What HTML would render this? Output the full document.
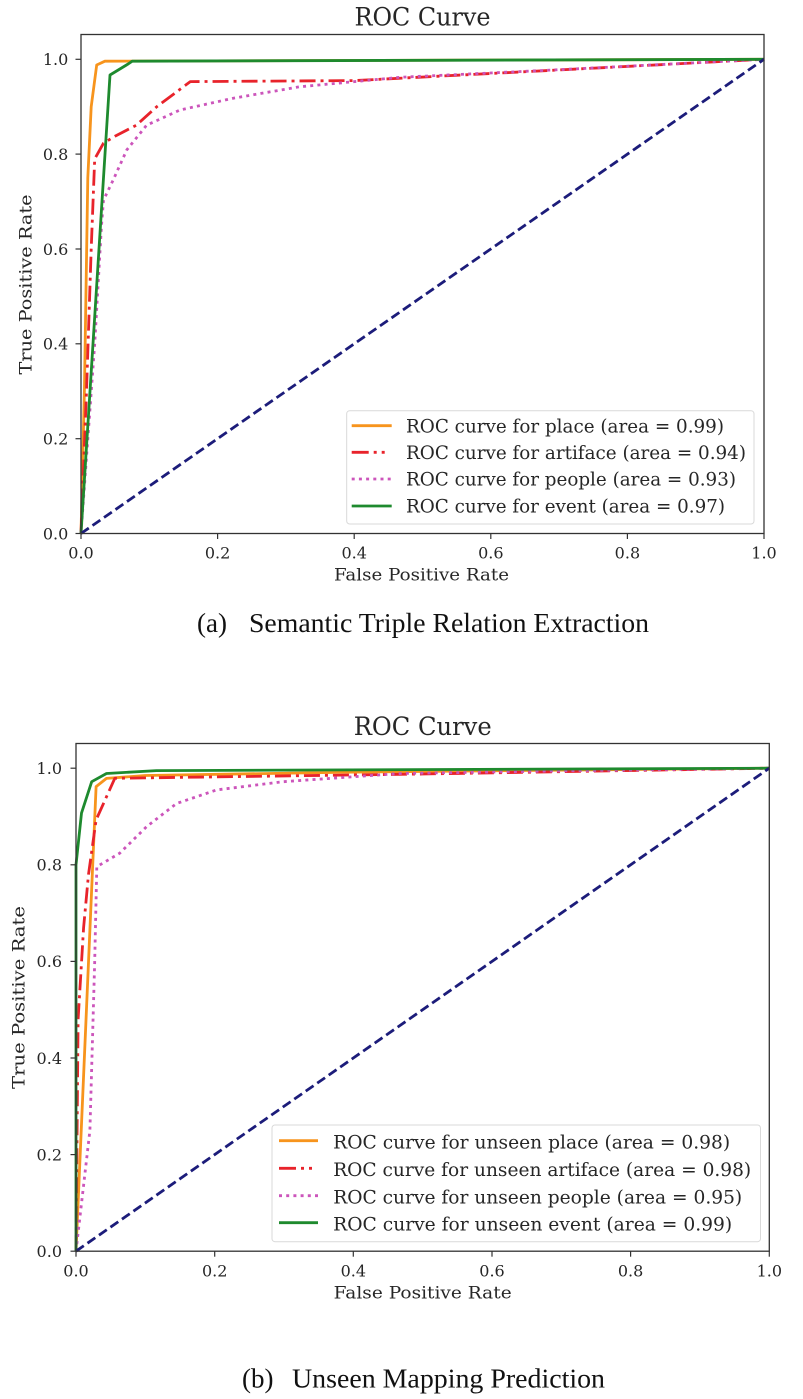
<!DOCTYPE html>
<html>
<head>
<meta charset="utf-8">
<style>
html,body{margin:0;padding:0;background:#fff;}
svg{display:block;}
.t{font-family:"DejaVu Serif","Liberation Serif",serif;fill:#262626;}
.cap{font-family:"Liberation Serif","Times New Roman",serif;fill:#111;}
</style>
</head>
<body>
<svg width="803" height="1399" viewBox="0 0 803 1399" xmlns="http://www.w3.org/2000/svg">
<rect x="0" y="0" width="803" height="1399" fill="#fff"/>

<!-- ================= TOP CHART ================= -->
<text class="t" x="422.5" y="25.7" text-anchor="middle" font-size="25" textLength="136" lengthAdjust="spacingAndGlyphs">ROC Curve</text>

<g fill="none" stroke-width="2.8" stroke-linejoin="round">
  <!-- place (orange) -->
  <polyline stroke="#f7941d" points="81,533.5 84.4,391.2 87.8,177.9 91.2,106.7 96.7,65 104.9,61.2 764,59.3"/>
  <!-- artiface (red dash-dot) -->
  <polyline stroke="#e8232b" stroke-dasharray="16 5 3 5" points="81,533.5 86.5,391.2 91.2,249 94.7,158.9 103.5,143.2 115.2,136.1 136.3,125.2 156.8,106.7 190.3,81.6 354.2,80.6 490.8,73.5 764,59.3"/>
  <!-- people (pink dotted) -->
  <polyline stroke="#cc55bb" stroke-dasharray="3 4.2" points="81,533.5 94.7,343.8 101.5,225.3 103.5,200.1 113.1,180.2 126.8,149.9 146.6,125.2 180,110 233.3,98.2 299.6,86.8 400,77.3 559.1,69.7 764,59.3"/>
  <!-- event (green) -->
  <polyline stroke="#1e8a2e" points="81,533.5 110,75 128.1,64 132.2,61.2 764,59.3"/>
  <!-- diagonal -->
  <line x1="81" y1="533.5" x2="764" y2="59.3" stroke="#1c1c7a" stroke-dasharray="9.5 4.5"/>
</g>

<!-- axes box -->
<rect x="81" y="34.5" width="683" height="499" fill="none" stroke="#333" stroke-width="1.3"/>

<!-- y ticks -->
<g stroke="#333" stroke-width="1.2">
  <line x1="75.5" y1="533.5" x2="81" y2="533.5"/>
  <line x1="75.5" y1="438.7" x2="81" y2="438.7"/>
  <line x1="75.5" y1="343.8" x2="81" y2="343.8"/>
  <line x1="75.5" y1="249" x2="81" y2="249"/>
  <line x1="75.5" y1="154.1" x2="81" y2="154.1"/>
  <line x1="75.5" y1="59.3" x2="81" y2="59.3"/>
  <line x1="81" y1="533.5" x2="81" y2="539"/>
  <line x1="217.6" y1="533.5" x2="217.6" y2="539"/>
  <line x1="354.2" y1="533.5" x2="354.2" y2="539"/>
  <line x1="490.8" y1="533.5" x2="490.8" y2="539"/>
  <line x1="627.4" y1="533.5" x2="627.4" y2="539"/>
  <line x1="764" y1="533.5" x2="764" y2="539"/>
</g>
<g class="t" font-size="16" text-anchor="end">
  <text x="68.3" y="539.3">0.0</text>
  <text x="68.3" y="444.5">0.2</text>
  <text x="68.3" y="349.6">0.4</text>
  <text x="68.3" y="254.8">0.6</text>
  <text x="68.3" y="159.9">0.8</text>
  <text x="68.3" y="65.1">1.0</text>
</g>
<g class="t" font-size="16" text-anchor="middle">
  <text x="81" y="558.3">0.0</text>
  <text x="217.6" y="558.3">0.2</text>
  <text x="354.2" y="558.3">0.4</text>
  <text x="490.8" y="558.3">0.6</text>
  <text x="627.4" y="558.3">0.8</text>
  <text x="764" y="558.3">1.0</text>
</g>
<text class="t" x="421.5" y="580.7" text-anchor="middle" font-size="17" textLength="175" lengthAdjust="spacingAndGlyphs">False Positive Rate</text>
<text class="t" transform="translate(31.5,284.5) rotate(-90)" x="0" y="0" text-anchor="middle" font-size="17" textLength="180" lengthAdjust="spacingAndGlyphs">True Positive Rate</text>

<!-- legend top -->
<rect x="346.7" y="410.7" width="407.3" height="113.3" rx="3" ry="3" fill="#fff" stroke="#d9d9d9" stroke-width="1"/>
<g fill="none" stroke-width="2.8">
  <line x1="351.7" y1="425.7" x2="391.7" y2="425.7" stroke="#f7941d"/>
  <line x1="351.7" y1="452.3" x2="391.7" y2="452.3" stroke="#e8232b" stroke-dasharray="17 5 3 5 3 10"/>
  <line x1="351.7" y1="479" x2="391.7" y2="479" stroke="#cc55bb" stroke-dasharray="3 4.2"/>
  <line x1="351.7" y1="506" x2="391.7" y2="506" stroke="#1e8a2e"/>
</g>
<g class="t" font-size="18.3">
  <text x="406" y="432.3" textLength="318" lengthAdjust="spacingAndGlyphs">ROC curve for place (area = 0.99)</text>
  <text x="406" y="458.9" textLength="340" lengthAdjust="spacingAndGlyphs">ROC curve for artiface (area = 0.94)</text>
  <text x="406" y="485.6" textLength="330" lengthAdjust="spacingAndGlyphs">ROC curve for people (area = 0.93)</text>
  <text x="406" y="512.6" textLength="319" lengthAdjust="spacingAndGlyphs">ROC curve for event (area = 0.97)</text>
</g>

<!-- caption a -->
<text class="cap" x="197" y="632" font-size="27">(a)</text>
<text class="cap" x="249" y="632" font-size="27" textLength="400" lengthAdjust="spacingAndGlyphs">Semantic Triple Relation Extraction</text>

<!-- ================= BOTTOM CHART ================= -->
<text class="t" x="422.7" y="735" text-anchor="middle" font-size="25" textLength="138" lengthAdjust="spacingAndGlyphs">ROC Curve</text>

<g fill="none" stroke-width="2.8" stroke-linejoin="round">
  <!-- place (orange) -->
  <polyline stroke="#f7941d" points="76,1251.2 96.1,786.6 106.5,778.4 145.3,775.5 353.3,772.1 769.3,768.2"/>
  <!-- artiface (red dash-dot) -->
  <polyline stroke="#e8232b" stroke-dasharray="16 5 3 5" points="76,1251.2 78.1,1019.4 83.6,927.6 88.5,874.5 96.1,819.9 114.8,778.3 214.7,776.9 422.7,774 769.3,768.2"/>
  <!-- people (pink dotted) -->
  <polyline stroke="#cc55bb" stroke-dasharray="3 4.2" points="76,1251.2 89.9,1130.5 94.7,961.4 96.8,866.7 119.7,853.2 146.7,826.6 176.5,803.5 216.7,789.9 283.3,781.7 399.8,773.5 561.3,770.9 769.3,768.2"/>
  <!-- event (green) -->
  <polyline stroke="#1e8a2e" points="76,1251.2 76,864.8 81.5,813.1 91.7,781.7 106.5,773.5 156.4,770.6 769.3,768.2"/>
  <!-- diagonal -->
  <line x1="76" y1="1251.2" x2="769.3" y2="768.2" stroke="#1c1c7a" stroke-dasharray="9.5 4.5"/>
</g>

<rect x="76" y="743.5" width="693.3" height="507.7" fill="none" stroke="#333" stroke-width="1.3"/>

<g stroke="#333" stroke-width="1.2">
  <line x1="70.5" y1="1251.2" x2="76" y2="1251.2"/>
  <line x1="70.5" y1="1154.6" x2="76" y2="1154.6"/>
  <line x1="70.5" y1="1058" x2="76" y2="1058"/>
  <line x1="70.5" y1="961.4" x2="76" y2="961.4"/>
  <line x1="70.5" y1="864.8" x2="76" y2="864.8"/>
  <line x1="70.5" y1="768.2" x2="76" y2="768.2"/>
  <line x1="76" y1="1251.2" x2="76" y2="1256.7"/>
  <line x1="214.7" y1="1251.2" x2="214.7" y2="1256.7"/>
  <line x1="353.3" y1="1251.2" x2="353.3" y2="1256.7"/>
  <line x1="492" y1="1251.2" x2="492" y2="1256.7"/>
  <line x1="630.6" y1="1251.2" x2="630.6" y2="1256.7"/>
  <line x1="769.3" y1="1251.2" x2="769.3" y2="1256.7"/>
</g>
<g class="t" font-size="16" text-anchor="end">
  <text x="62" y="1257">0.0</text>
  <text x="62" y="1160.4">0.2</text>
  <text x="62" y="1063.8">0.4</text>
  <text x="62" y="967.2">0.6</text>
  <text x="62" y="870.6">0.8</text>
  <text x="62" y="774">1.0</text>
</g>
<g class="t" font-size="16" text-anchor="middle">
  <text x="76" y="1276.7">0.0</text>
  <text x="214.7" y="1276.7">0.2</text>
  <text x="353.3" y="1276.7">0.4</text>
  <text x="492" y="1276.7">0.6</text>
  <text x="630.6" y="1276.7">0.8</text>
  <text x="769.3" y="1276.7">1.0</text>
</g>
<text class="t" x="422.7" y="1298.5" text-anchor="middle" font-size="17" textLength="178" lengthAdjust="spacingAndGlyphs">False Positive Rate</text>
<text class="t" transform="translate(24.5,997.5) rotate(-90)" x="0" y="0" text-anchor="middle" font-size="17" textLength="183" lengthAdjust="spacingAndGlyphs">True Positive Rate</text>

<!-- legend bottom -->
<rect x="272" y="1125" width="488.5" height="116.7" rx="3" ry="3" fill="#fff" stroke="#d9d9d9" stroke-width="1"/>
<g fill="none" stroke-width="2.8">
  <line x1="279" y1="1140.7" x2="318" y2="1140.7" stroke="#f7941d"/>
  <line x1="279" y1="1168.3" x2="318" y2="1168.3" stroke="#e8232b" stroke-dasharray="17 5 3 5 3 10"/>
  <line x1="279" y1="1195.7" x2="318" y2="1195.7" stroke="#cc55bb" stroke-dasharray="3 4.2"/>
  <line x1="279" y1="1222.7" x2="318" y2="1222.7" stroke="#1e8a2e"/>
</g>
<g class="t" font-size="18.6">
  <text x="333.2" y="1148.3" textLength="397" lengthAdjust="spacingAndGlyphs">ROC curve for unseen place (area = 0.98)</text>
  <text x="333.2" y="1175.9" textLength="418" lengthAdjust="spacingAndGlyphs">ROC curve for unseen artiface (area = 0.98)</text>
  <text x="333.2" y="1203.3" textLength="409" lengthAdjust="spacingAndGlyphs">ROC curve for unseen people (area = 0.95)</text>
  <text x="333.2" y="1230.3" textLength="399" lengthAdjust="spacingAndGlyphs">ROC curve for unseen event (area = 0.99)</text>
</g>

<!-- caption b -->
<text class="cap" x="242" y="1387.3" font-size="27">(b)</text>
<text class="cap" x="292" y="1387.3" font-size="27" textLength="313" lengthAdjust="spacingAndGlyphs">Unseen Mapping Prediction</text>
</svg>
</body>
</html>
